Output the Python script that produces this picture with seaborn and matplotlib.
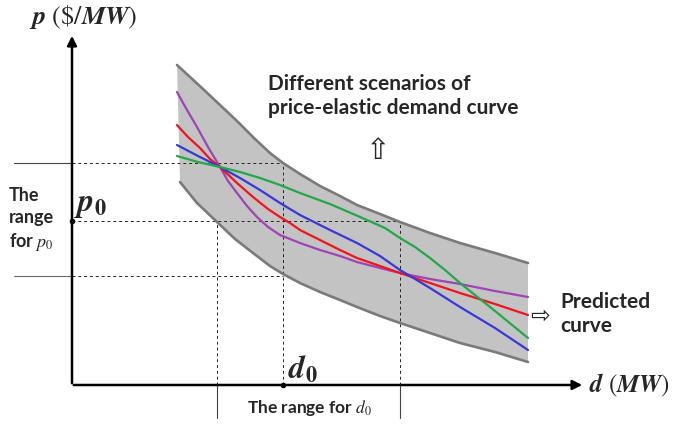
import numpy as np
import matplotlib
matplotlib.use("Agg")
import matplotlib.pyplot as plt
import pandas as pd
import seaborn as sns

# diagram units: d = demand (MW), p = price ($/MW), origin at the axis corner
upper_d = [105, 118, 131, 148, 165, 183, 198, 211, 228, 248, 268, 285, 308, 328, 358, 388, 423, 456]
upper_p = [320, 308, 296, 280, 264, 246, 232, 222, 211, 199, 189, 180, 171, 163, 152, 142, 132, 122]
lower_d = [108, 125, 145, 163, 181, 198, 211, 228, 248, 268, 285, 308, 328, 358, 388, 423, 456]
lower_p = [203, 182, 163, 146, 132, 119, 111, 102, 93, 85, 78, 69, 62, 52, 42, 33, 23]

purple_d = [105, 115, 125, 136, 148, 156, 165, 175, 185, 196, 208, 218, 228, 248, 268, 285, 308, 328, 358, 388, 423, 456]
purple_p = [293, 275, 258, 238, 218, 204, 192, 179, 168, 158, 150, 146, 142, 135, 129, 123, 117, 112, 106, 101, 94, 88]
red_d = [105, 116, 128, 138, 148, 165, 181, 196, 208, 218, 228, 248, 268, 285, 308, 328, 358, 388, 423, 456]
red_p = [260, 248, 237, 226, 218, 202, 188, 176, 168, 162, 155, 145, 135, 127, 119, 112, 102, 92, 81, 70]
blue_d = [105, 126, 148, 168, 188, 208, 228, 258, 285, 308, 328, 358, 388, 423, 456]
blue_p = [240, 229, 218, 207, 195, 182, 170, 155, 142, 129, 115, 97, 78, 57, 35]
green_d = [105, 126, 148, 168, 188, 208, 228, 258, 295, 313, 328, 343, 358, 373, 388, 423, 456]
green_p = [229, 223, 218, 213, 207, 200, 192, 181, 165, 157, 147, 138, 127, 115, 102, 74, 47]

p_hi, p0, p_lo = 222, 164, 109
d_lo, d0, d_hi = 145, 211, 328
d_axis_max, p_axis_max = 513, 352

scenarios = {
    'purple': (purple_d, purple_p),
    'red': (red_d, red_p),
    'blue': (blue_d, blue_p),
    'green': (green_d, green_p),
}
palette = {'purple': '#a044b4', 'red': '#f0141e', 'blue': '#3838d8', 'green': '#22a84a'}

rows = []
for name, (xs, ys) in scenarios.items():
    for x, y in zip(xs, ys):
        rows.append({'scenario': name, 'd': x, 'p': y})
df = pd.DataFrame(rows)

sns.set_style("white")
plt.rcParams['font.family'] = ['Lato', 'DejaVu Sans']
plt.rcParams['mathtext.fontset'] = 'stix'

fig = plt.figure(figsize=(6.73, 4.25), dpi=100)
ax = fig.add_axes([0, 0, 1, 1])
ax.set_xlim(-72, 601)
ax.set_ylim(-40, 385)
ax.axis('off')

# shaded band of possible demand curves
band_d = upper_d + lower_d[::-1]
band_p = upper_p + lower_p[::-1]
ax.fill(band_d, band_p, color='#c3c3c3', lw=0, zorder=1)
ax.plot(upper_d, upper_p, color='#7a7a7a', lw=1.9, zorder=2, solid_joinstyle='round')
ax.plot(lower_d, lower_p, color='#7a7a7a', lw=1.9, zorder=2, solid_joinstyle='round')

# guide lines
dash = dict(color='#222222', lw=0.7, ls=(0, (3, 3)), zorder=1.5)
ax.plot([0, d0], [p_hi, p_hi], **dash)
ax.plot([0, d_hi], [p0, p0], **dash)
ax.plot([0, d0], [p_lo, p_lo], **dash)
ax.plot([d_lo, d_lo], [0, p0], **dash)
ax.plot([d0, d0], [0, p_hi], **dash)
ax.plot([d_hi, d_hi], [0, p0], **dash)
ax.plot([-58, 0], [p_hi, p_hi], color='#444444', lw=0.8)
ax.plot([-58, 0], [p_lo, p_lo], color='#666666', lw=0.8)
ax.plot([d_lo, d_lo], [-33, 0], color='#444444', lw=0.8)
ax.plot([d_hi, d_hi], [-33, 0], color='#444444', lw=0.8)

# scenario curves
sns.lineplot(data=df, x='d', y='p', hue='scenario', units='scenario', estimator=None,
             sort=False, palette=palette, linewidth=1.6, legend=False, ax=ax, zorder=3)

# axes arrows
ax.annotate('', xy=(0, p_axis_max), xytext=(0, -1),
            arrowprops=dict(arrowstyle='-|>', color='black', lw=1.8, mutation_scale=14))
ax.annotate('', xy=(d_axis_max, 0), xytext=(-1, 0),
            arrowprops=dict(arrowstyle='-|>', color='black', lw=1.8, mutation_scale=14))
ax.plot([0, d0], [p0, 0], 'o', color='black', ms=3, zorder=5)

# labels
ax.text(-43, 368, r'$\mathbfit{p}\ (\$/\mathbfit{MW})$', fontsize=19, va='center', ha='left')
ax.text(517, 0, r'$\mathbfit{d}\ (\mathbfit{MW})$', fontsize=18, va='center', ha='left')
ax.text(2, 180, r'$\mathbfit{p}_{\mathbf{0}}$', fontsize=23, va='center', ha='left')
ax.text(216, 16, r'$\mathbfit{d}_{\mathbf{0}}$', fontsize=23, va='center', ha='left')
ax.text(-63, 165, 'The\nrange\nfor $p_0$', fontsize=13, fontweight='bold',
        va='center', ha='left', linespacing=1.35)
ax.text(237, -23, 'The range for $d_0$', fontsize=12.5, fontweight='bold',
        va='center', ha='center',
        bbox=dict(facecolor='white', edgecolor='none', pad=1))
ax.text(196, 289, 'Different scenarios of\nprice-elastic demand curve', fontsize=15,
        fontweight='bold', va='center', ha='left', linespacing=1.3)
ax.text(305, 234, '\u21e7', fontsize=21, va='center', ha='center', family='DejaVu Sans')
ax.text(468, 69, '\u21e8', fontsize=17, va='center', ha='center', family='DejaVu Sans')
ax.text(488, 71, 'Predicted\ncurve', fontsize=15, fontweight='bold',
        va='center', ha='left', linespacing=1.3)

fig.savefig('out.png', dpi=100)
